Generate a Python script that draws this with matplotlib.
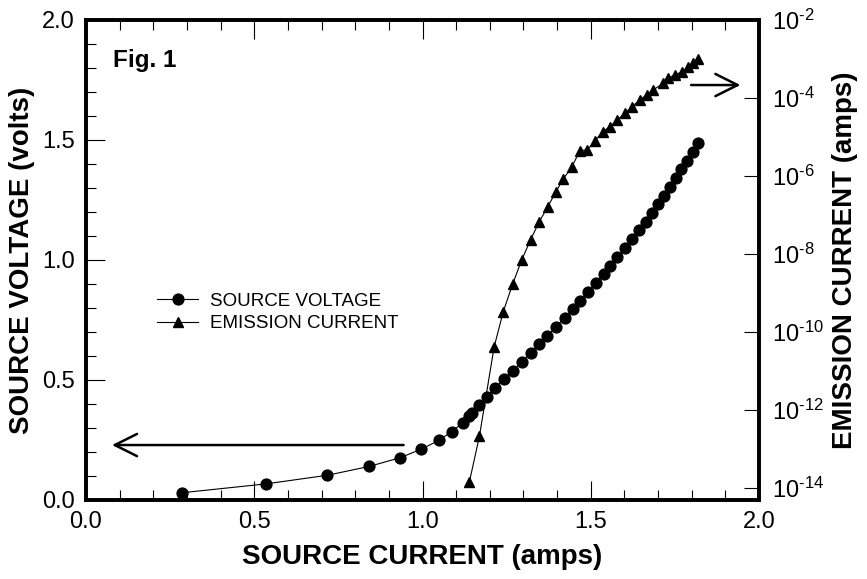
import numpy as np
import matplotlib
matplotlib.use('Agg')
import matplotlib.pyplot as plt
from matplotlib.ticker import MultipleLocator, FixedLocator, NullLocator

plt.rcParams['font.family'] = ['Liberation Sans', 'DejaVu Sans']
plt.rcParams['mathtext.fontset'] = 'custom'
plt.rcParams['mathtext.rm'] = 'Liberation Sans'
plt.rcParams['mathtext.default'] = 'regular'

# source voltage (volts) vs source current (amps)
volt_current = [0.284, 0.534, 0.717, 0.842, 0.933, 0.997, 1.049, 1.087, 1.119,
                1.139, 1.147, 1.169, 1.193, 1.215, 1.242, 1.269, 1.295, 1.321,
                1.346, 1.371, 1.397, 1.422, 1.446, 1.469, 1.492, 1.515, 1.538,
                1.558, 1.579, 1.603, 1.623, 1.643, 1.663, 1.682, 1.700, 1.718,
                1.736, 1.752, 1.769, 1.786, 1.803, 1.820]
volt_values = [0.030, 0.067, 0.103, 0.140, 0.176, 0.212, 0.249, 0.285, 0.321,
               0.352, 0.362, 0.397, 0.431, 0.467, 0.503, 0.539, 0.576, 0.613,
               0.649, 0.685, 0.722, 0.760, 0.795, 0.831, 0.868, 0.906, 0.940,
               0.976, 1.014, 1.049, 1.086, 1.124, 1.160, 1.196, 1.232, 1.268,
               1.305, 1.343, 1.378, 1.414, 1.451, 1.486]

# emission current (log10 amps) vs source current (amps)
emis_current = [1.139, 1.169, 1.213, 1.240, 1.268, 1.295, 1.321, 1.346, 1.372,
                1.397, 1.418, 1.443, 1.468, 1.490, 1.513, 1.535, 1.557, 1.579,
                1.602, 1.623, 1.646, 1.666, 1.686, 1.716, 1.731, 1.750, 1.770,
                1.790, 1.805, 1.820]
emis_log = [-13.86, -12.68, -10.38, -9.48, -8.77, -8.15, -7.64, -7.19, -6.79,
            -6.40, -6.08, -5.78, -5.35, -5.33, -5.10, -4.86, -4.74, -4.56,
            -4.39, -4.22, -4.05, -3.92, -3.79, -3.62, -3.49, -3.41, -3.33,
            -3.20, -3.11, -3.00]

right_ticks = [-14, -12, -10, -8, -6, -4, -2]

fig = plt.figure(figsize=(8.67, 5.79), dpi=100)
ax = fig.add_axes([86 / 867, 1 - 500 / 579, 673 / 867, 480 / 579])
ax2 = ax.twinx()

l1, = ax.plot(volt_current, volt_values, color='black', lw=0.8,
              marker='o', ms=7.8, label='SOURCE VOLTAGE')
l2, = ax2.plot(emis_current, 10.0 ** np.array(emis_log), color='black', lw=0.8,
               marker='^', ms=6.5, label='EMISSION CURRENT')

ax.set_xlim(0, 2.0)
ax.set_ylim(0, 2.0)
ax2.set_yscale('log')
ax2.set_ylim(10 ** -14.31, 1e-2)

ax.xaxis.set_major_locator(MultipleLocator(0.5))
ax.xaxis.set_minor_locator(MultipleLocator(0.1))
ax.yaxis.set_major_locator(MultipleLocator(0.5))
ax.yaxis.set_minor_locator(MultipleLocator(0.1))
ax.tick_params(which='both', direction='in', top=True, right=False,
               labelsize=17, pad=8, width=0.8)
ax.tick_params(which='major', length=14)
ax.tick_params(which='minor', length=7)

ax2.yaxis.set_major_locator(FixedLocator([10.0 ** t for t in right_ticks]))
ax2.yaxis.set_minor_locator(NullLocator())
ax2.set_yticklabels(['$10^{\u2010%d}$' % abs(t) for t in right_ticks])
ax2.tick_params(which='major', direction='in', length=11, width=0.8,
                labelsize=17, pad=9)

for a in (ax, ax2):
    for s in a.spines.values():
        s.set_linewidth(2.6)

ax.set_xlabel('SOURCE CURRENT (amps)', fontsize=20, fontweight='bold', labelpad=8)
ax.set_ylabel('SOURCE VOLTAGE (volts)', fontsize=20, fontweight='bold', labelpad=5)
ax2.set_ylabel('EMISSION CURRENT (amps)', fontsize=20, fontweight='bold', labelpad=6)

ax.text(113 / 867, 1 - 49 / 579, 'Fig. 1', transform=fig.transFigure,
        fontsize=17.5, fontweight='bold', va='top', ha='left')

# arrows pointing to the axes
ax.annotate('', xy=(0.069, 0.229), xytext=(0.952, 0.229),
            arrowprops=dict(arrowstyle='->', color='black', lw=1.8,
                            mutation_scale=40))
ax.annotate('', xy=(1.953, 1.729), xytext=(1.790, 1.729),
            arrowprops=dict(arrowstyle='->', color='black', lw=1.8,
                            mutation_scale=40))

fig.legend([l1, l2], ['SOURCE VOLTAGE', 'EMISSION CURRENT'],
           loc='center left', bbox_to_anchor=(157 / 867, 1 - 312.5 / 579),
           frameon=False, fontsize=13.5, handlelength=2.2, handletextpad=0.6,
           labelspacing=0.3, borderpad=0, borderaxespad=0)

fig.savefig('out.png', dpi=100)
